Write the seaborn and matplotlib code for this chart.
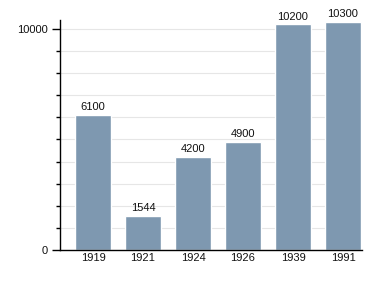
import matplotlib
matplotlib.use("Agg")
import matplotlib.pyplot as plt
import seaborn as sns
import pandas as pd
from matplotlib.ticker import FixedLocator, NullFormatter

years = ["1919", "1921", "1924", "1926", "1939", "1991"]
population = [6100, 1544, 4200, 4900, 10200, 10300]
ytick_labels = ["0", "10000"]

sns.set_style("white")
plt.rcParams['font.family'] = ['Liberation Sans', 'DejaVu Sans']

df = pd.DataFrame({"year": years, "pop": population})

fig = plt.figure(figsize=(3.65, 3.0), dpi=100)
ax = fig.add_axes([60/365, 50/300, 302/365, 230/300])

sns.barplot(data=df, x="year", y="pop", color="#7e98b0", saturation=1,
            width=0.72, ax=ax, zorder=2)

ax.set_xlim(-0.66, 5.38)
ax.set_ylim(0, 10400)
ax.grid(False)
ax.set_yticks([0, 10000])
ax.set_yticklabels(ytick_labels)
ax.yaxis.set_minor_locator(FixedLocator(list(range(1000, 10000, 1000))))
ax.yaxis.set_minor_formatter(NullFormatter())
for yv in range(1000, 10001, 1000):
    ax.axhline(yv, color="#e6e6e6", linewidth=0.8, zorder=0)

for s in ["top", "right"]:
    ax.spines[s].set_visible(False)
for s in ["left", "bottom"]:
    ax.spines[s].set_color("black")
    ax.spines[s].set_linewidth(1.0)

ax.tick_params(axis="y", which="major", length=6, width=1, color="black",
               labelsize=8, pad=3, left=True, labelcolor="#111111")
ax.tick_params(axis="y", which="minor", length=3, width=1, color="black", left=True)
ax.tick_params(axis="x", length=0, labelsize=8, pad=2.5, labelcolor="#111111")
ax.set_xlabel("")
ax.set_ylabel("")

for c in ax.containers:
    ax.bar_label(c, labels=[str(v) for v in population], padding=2, fontsize=8,
                 color="#111111")

fig.savefig("out.png", dpi=100)
